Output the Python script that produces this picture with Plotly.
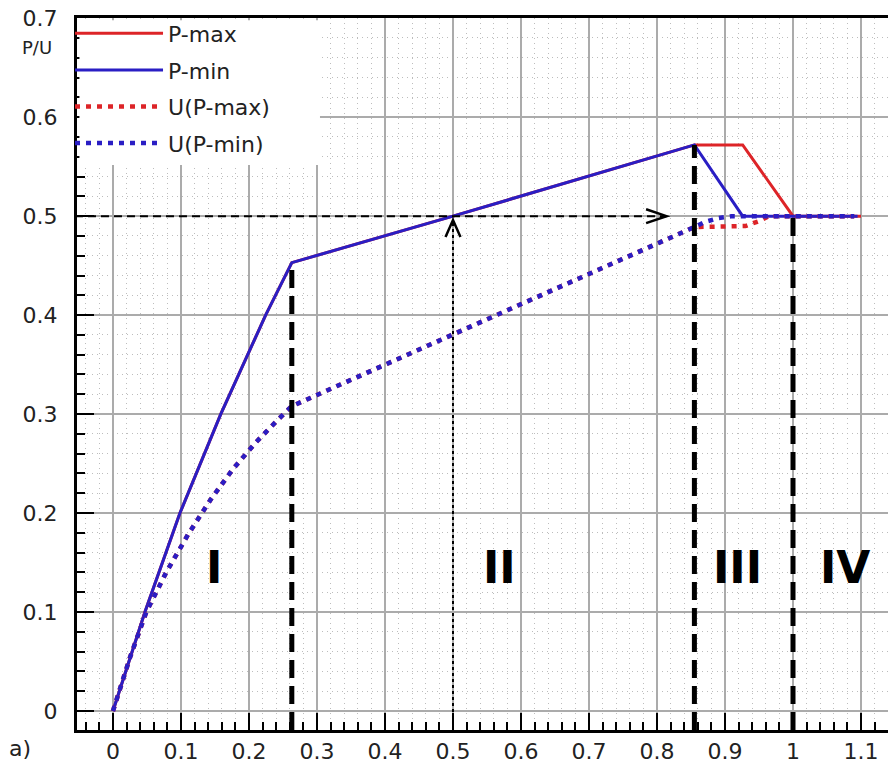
import plotly.graph_objects as go

# ---- data ----
x_pmax = [0, 0.047, 0.0985, 0.1585, 0.2245, 0.263, 0.5, 0.855, 0.926, 1.0, 1.1]
y_pmax = [0, 0.1, 0.2, 0.3, 0.4, 0.453, 0.5, 0.572, 0.572, 0.5, 0.5]

x_pmin = [0, 0.047, 0.0985, 0.1585, 0.2245, 0.263, 0.5, 0.855, 0.926, 1.095]
y_pmin = [0, 0.1, 0.2, 0.3, 0.4, 0.453, 0.5, 0.572, 0.5, 0.5]

x_u_pmax = [0, 0.025, 0.049, 0.079, 0.111, 0.143, 0.177, 0.211, 0.24, 0.263, 0.855, 0.88, 0.93, 0.95, 0.965, 1.09]
y_u_pmax = [0, 0.054, 0.1, 0.141, 0.179, 0.213, 0.245, 0.272, 0.2925, 0.308, 0.489, 0.489, 0.49, 0.495, 0.5, 0.5]

x_u_pmin = [0, 0.025, 0.049, 0.079, 0.111, 0.143, 0.177, 0.211, 0.24, 0.263, 0.855, 0.87, 0.89, 0.91, 1.09]
y_u_pmin = [0, 0.054, 0.1, 0.141, 0.179, 0.213, 0.245, 0.272, 0.2925, 0.308, 0.489, 0.494, 0.498, 0.5, 0.5]

series_names = ["P-max", "P-min", "U(P-max)", "U(P-min)"]

# stage boundaries (x, top y) and reference level
boundaries_x = [0.263, 0.855, 1.0]
boundaries_top = [0.453, 0.572, 0.5]
ref_level = 0.5
ref_x = 0.5
arrow_tip_x = 0.814

region_labels = ["I", "II", "III", "IV"]
region_x = [0.148, 0.568, 0.919, 1.077]
region_y = 0.145

x_ticks = [0, 0.1, 0.2, 0.3, 0.4, 0.5, 0.6, 0.7, 0.8, 0.9, 1.0, 1.1]
x_tick_text = ["0", "0.1", "0.2", "0.3", "0.4", "0.5", "0.6", "0.7", "0.8", "0.9", "1", "1.1"]
y_ticks = [0, 0.1, 0.2, 0.3, 0.4, 0.5, 0.6, 0.7]
y_tick_text = ["0", "0.1", "0.2", "0.3", "0.4", "0.5", "0.6", "0.7"]

RED = "#dd2428"
BLUE = "#2a1ec4"
FONT = "DejaVu Sans"

fig = go.Figure()
styles = [
    dict(color=RED, width=3),
    dict(color=BLUE, width=3),
    dict(color=RED, width=4.5, dash="5px,6px"),
    dict(color=BLUE, width=4.5, dash="5px,6px"),
]
xs = [x_pmax, x_pmin, x_u_pmax, x_u_pmin]
ys = [y_pmax, y_pmin, y_u_pmax, y_u_pmin]
for i, (xv, yv, nm, st) in enumerate(zip(xs, ys, series_names, styles)):
    fig.add_trace(go.Scatter(x=xv, y=yv, mode="lines", name=nm, line=st, legendgroup=f"g{i}"))

ymin = -0.0192
shapes = []
# white area behind the legend (hides grid there, like the reference)
shapes.append(dict(type="rect", xref="paper", yref="paper", x0=0.003, x1=0.2996, y0=0.7935, y1=0.997,
                   fillcolor="white", line=dict(width=0), layer="above"))
for bx, bt in zip(boundaries_x, boundaries_top):
    shapes.append(dict(type="line", xref="x", yref="y", x0=bx, x1=bx, y0=ymin, y1=bt,
                       line=dict(color="black", width=5, dash="18px,8px")))
# horizontal dashed reference with open arrowhead
shapes.append(dict(type="line", xref="x", yref="y", x0=-0.075, x1=arrow_tip_x, y0=ref_level, y1=ref_level,
                   line=dict(color="black", width=2, dash="8px,5px")))
shapes.append(dict(type="path", xref="x", yref="y",
                   path=f"M {arrow_tip_x-0.03} {ref_level+0.007} L {arrow_tip_x} {ref_level} L {arrow_tip_x-0.03} {ref_level-0.007}",
                   line=dict(color="black", width=2.5)))
# vertical dotted at x=0.5 with arrowhead
shapes.append(dict(type="line", xref="x", yref="y", x0=ref_x, x1=ref_x, y0=ymin, y1=ref_level - 0.004,
                   line=dict(color="black", width=2, dash="3px,3px")))
shapes.append(dict(type="path", xref="x", yref="y",
                   path=f"M {ref_x-0.011} {ref_level-0.021} L {ref_x} {ref_level-0.004} L {ref_x+0.011} {ref_level-0.021}",
                   line=dict(color="black", width=2.5)))

annotations = []
for lab, rx in zip(region_labels, region_x):
    annotations.append(dict(x=rx, y=region_y, xref="x", yref="y", text=lab, showarrow=False,
                            font=dict(family=FONT, size=44, color="black", weight="bold")))
annotations.append(dict(x=-0.0493, y=0.958, xref="paper", yref="paper", text="P/U", showarrow=False,
                        xanchor="center", yanchor="middle",
                        font=dict(family=FONT, size=18, color="#222")))
annotations.append(dict(x=-0.070, y=-0.026, xref="paper", yref="paper", text="a)", showarrow=False,
                        xanchor="center", yanchor="middle",
                        font=dict(family=FONT, size=22, color="#222")))

minor = dict(dtick=0.02, tick0=0, ticks="inside", ticklen=8, tickwidth=1.5, tickcolor="black",
             showgrid=True, gridcolor="#bdbdbd", griddash="1px,4px", gridwidth=1)

fig.update_layout(
    width=888, height=765, autosize=False,
    margin=dict(l=77, r=0, t=18, b=35, autoexpand=False),
    paper_bgcolor="white", plot_bgcolor="white",
    font=dict(family=FONT, size=22, color="#222"),
    showlegend=True,
    legend=dict(x=-0.0086, y=1.0077, xanchor="left", yanchor="top", bgcolor="rgba(0,0,0,0)",
                borderwidth=0, itemwidth=88, tracegroupgap=5,
                font=dict(family=FONT, size=22, color="#222"),
                traceorder="grouped"),
    shapes=shapes,
    annotations=annotations,
    xaxis=dict(range=[-0.0529, 1.1397], tickmode="array", tickvals=x_ticks, ticktext=x_tick_text,
               ticks="inside", ticklen=17, tickwidth=2, tickcolor="black",
               showline=True, linewidth=3, linecolor="black", mirror=True,
               showgrid=True, gridcolor="#ababab", gridwidth=1.5, zeroline=False,
               minor=minor, ticklabelstandoff=0, automargin=False, ticklabeloverflow="allow"),
    yaxis=dict(range=[ymin, 0.7002], tickmode="array", tickvals=y_ticks, ticktext=y_tick_text,
               ticks="inside", ticklen=17, tickwidth=2, tickcolor="black",
               showline=True, linewidth=3, linecolor="black", mirror=False,
               showgrid=True, gridcolor="#ababab", gridwidth=1.5, zeroline=False,
               minor=minor, ticklabelstandoff=12, automargin=False, ticklabeloverflow="allow"),
)

# remove the default page margin so the figure fills the window exactly; hide the modebar
fig.write_html("out.html",
               config={"displayModeBar": False},
               post_script="document.body.style.margin='0';document.body.style.overflow='hidden';")
